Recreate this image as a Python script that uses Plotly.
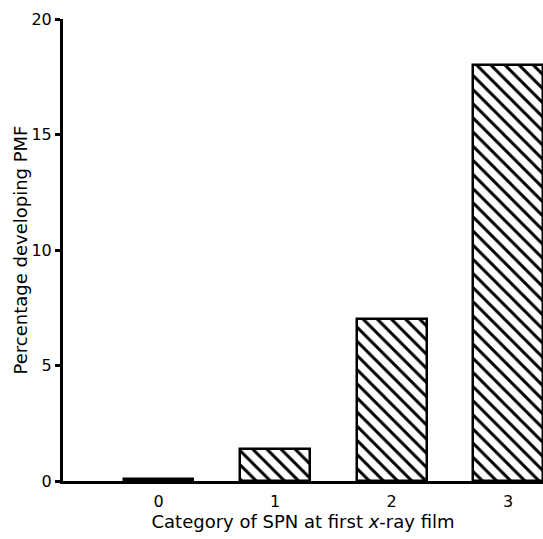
import plotly.graph_objects as go

categories = [0, 1, 2, 3]
percent_pmf = [0.1, 1.4, 7.0, 18.0]
y_ticks = [0, 5, 10, 15, 20]

fig = go.Figure()
fig.add_trace(go.Bar(
    x=categories, y=percent_pmf, width=0.6,
    marker=dict(color="white",
                line=dict(color="black", width=2.5),
                pattern=dict(shape="\\", fgcolor="black", bgcolor="white",
                             fgopacity=1, size=10, solidity=0.3)),
))

font_family = "DejaVu Sans, Arial, sans-serif"
fig.update_layout(
    width=543, height=539,
    margin=dict(l=63, r=0, t=19, b=58),
    paper_bgcolor="white", plot_bgcolor="white",
    showlegend=False,
    font=dict(family=font_family, color="black", size=16),
    bargap=0,
)
fig.update_xaxes(
    range=[-0.82, 3.3], tickvals=categories, ticktext=[str(c) for c in categories],
    showline=True, linecolor="black", linewidth=3,
    ticks="outside", ticklen=4, tickcolor="rgba(0,0,0,0)", showgrid=False,
    zeroline=False, tickfont=dict(size=16),
    title=dict(text="Category of SPN at first <i>x</i>-ray film", standoff=4, font=dict(size=18)),
)
fig.update_yaxes(
    range=[0, 20], tickvals=y_ticks, ticktext=[str(t) for t in y_ticks],
    showline=True, linecolor="black", linewidth=3, ticks="outside", ticklen=5,
    tickwidth=3, tickcolor="black", showgrid=False, zeroline=False,
    tickfont=dict(size=16),
    title=dict(text="Percentage developing PMF", standoff=0, font=dict(size=18)),
)
fig.write_html("out.html", config={"displayModeBar": False},
               post_script="document.body.style.margin='0';document.body.style.overflow='hidden';")
